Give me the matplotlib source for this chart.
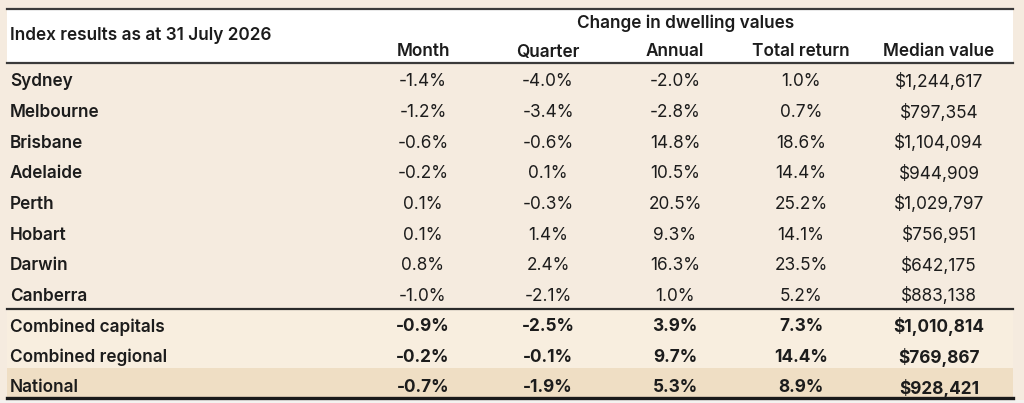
import matplotlib.pyplot as plt
from matplotlib.patches import Rectangle

plt.rcParams['font.family'] = ['Inter', 'DejaVu Sans']

title = 'Index results as at 31 July 2026'
group_label = 'Change in dwelling values'
columns = ['Month', 'Quarter', 'Annual', 'Total return', 'Median value']
regions = ['Sydney', 'Melbourne', 'Brisbane', 'Adelaide', 'Perth', 'Hobart',
           'Darwin', 'Canberra', 'Combined capitals', 'Combined regional', 'National']
month = [-1.4, -1.2, -0.6, -0.2, 0.1, 0.1, 0.8, -1.0, -0.9, -0.2, -0.7]
quarter = [-4.0, -3.4, -0.6, 0.1, -0.3, 1.4, 2.4, -2.1, -2.5, -0.1, -1.9]
annual = [-2.0, -2.8, 14.8, 10.5, 20.5, 9.3, 16.3, 1.0, 3.9, 9.7, 5.3]
total_return = [1.0, 0.7, 18.6, 14.4, 25.2, 14.1, 23.5, 5.2, 7.3, 14.4, 8.9]
median_value = [1244617, 797354, 1104094, 944909, 1029797, 756951, 642175,
                883138, 1010814, 769867, 928421]

n_city = 8  # rows after this are the bold summary rows

col_x = [423, 548, 675, 801, 939]
left, right = 7, 1013
top_line, head_line = 9, 63
sep, bottom = 309, 398
row_h = 30.6
fs = 12.4
ink = '#1c1c1c'

fig = plt.figure(figsize=(10.24, 4.03), dpi=100)
fig.patch.set_facecolor('#f5ebdf')
ax = fig.add_axes([0, 0, 1, 1])
ax.set_xlim(0, 1024)
ax.set_ylim(403, 0)
ax.axis('off')

# header band
ax.add_patch(Rectangle((left, top_line), right - left, head_line - top_line,
                       facecolor='white', edgecolor='none'))
# summary row bands
band_h = (bottom - sep) / (len(regions) - n_city)
for k in range(len(regions) - n_city):
    fc = '#efdec4' if k == len(regions) - n_city - 1 else '#f8eedf'
    ax.add_patch(Rectangle((left, sep + k * band_h), right - left, band_h,
                           facecolor=fc, edgecolor='none'))
ax.add_patch(Rectangle((0, 400), 1024, 3, facecolor='#f4f2ef', edgecolor='none'))

ax.text(10, 36, title, fontsize=fs, fontweight='semibold', va='center', color=ink)
ax.text(686, 23, group_label, fontsize=fs, fontweight='semibold', va='center', ha='center', color=ink)
for cx, c in zip(col_x, columns):
    ax.text(cx, 52, c, fontsize=fs, fontweight='semibold', va='center', ha='center', color=ink)

ax.plot([left, right], [top_line, top_line], color='#3a3a3a', lw=1.6)
ax.plot([left, right], [head_line, head_line], color='#3a3a3a', lw=1.6)
ax.plot([left, right], [sep, sep], color='#2a2a2a', lw=1.6)
ax.plot([left, right], [bottom, bottom], color='#1a1a1a', lw=2.4)

for i, r in enumerate(regions):
    y = 82 + i * row_h
    w = 'bold' if i >= n_city else 'normal'
    ax.text(10, y, r, fontsize=fs, fontweight='semibold', va='center', color=ink)
    vals = ['%.1f%%' % month[i], '%.1f%%' % quarter[i], '%.1f%%' % annual[i],
            '%.1f%%' % total_return[i], '${:,}'.format(median_value[i])]
    for cx, v in zip(col_x, vals):
        ax.text(cx, y, v, fontsize=fs, fontweight=w, va='center', ha='center', color=ink)

fig.savefig('out.png', dpi=100, facecolor=fig.get_facecolor())
